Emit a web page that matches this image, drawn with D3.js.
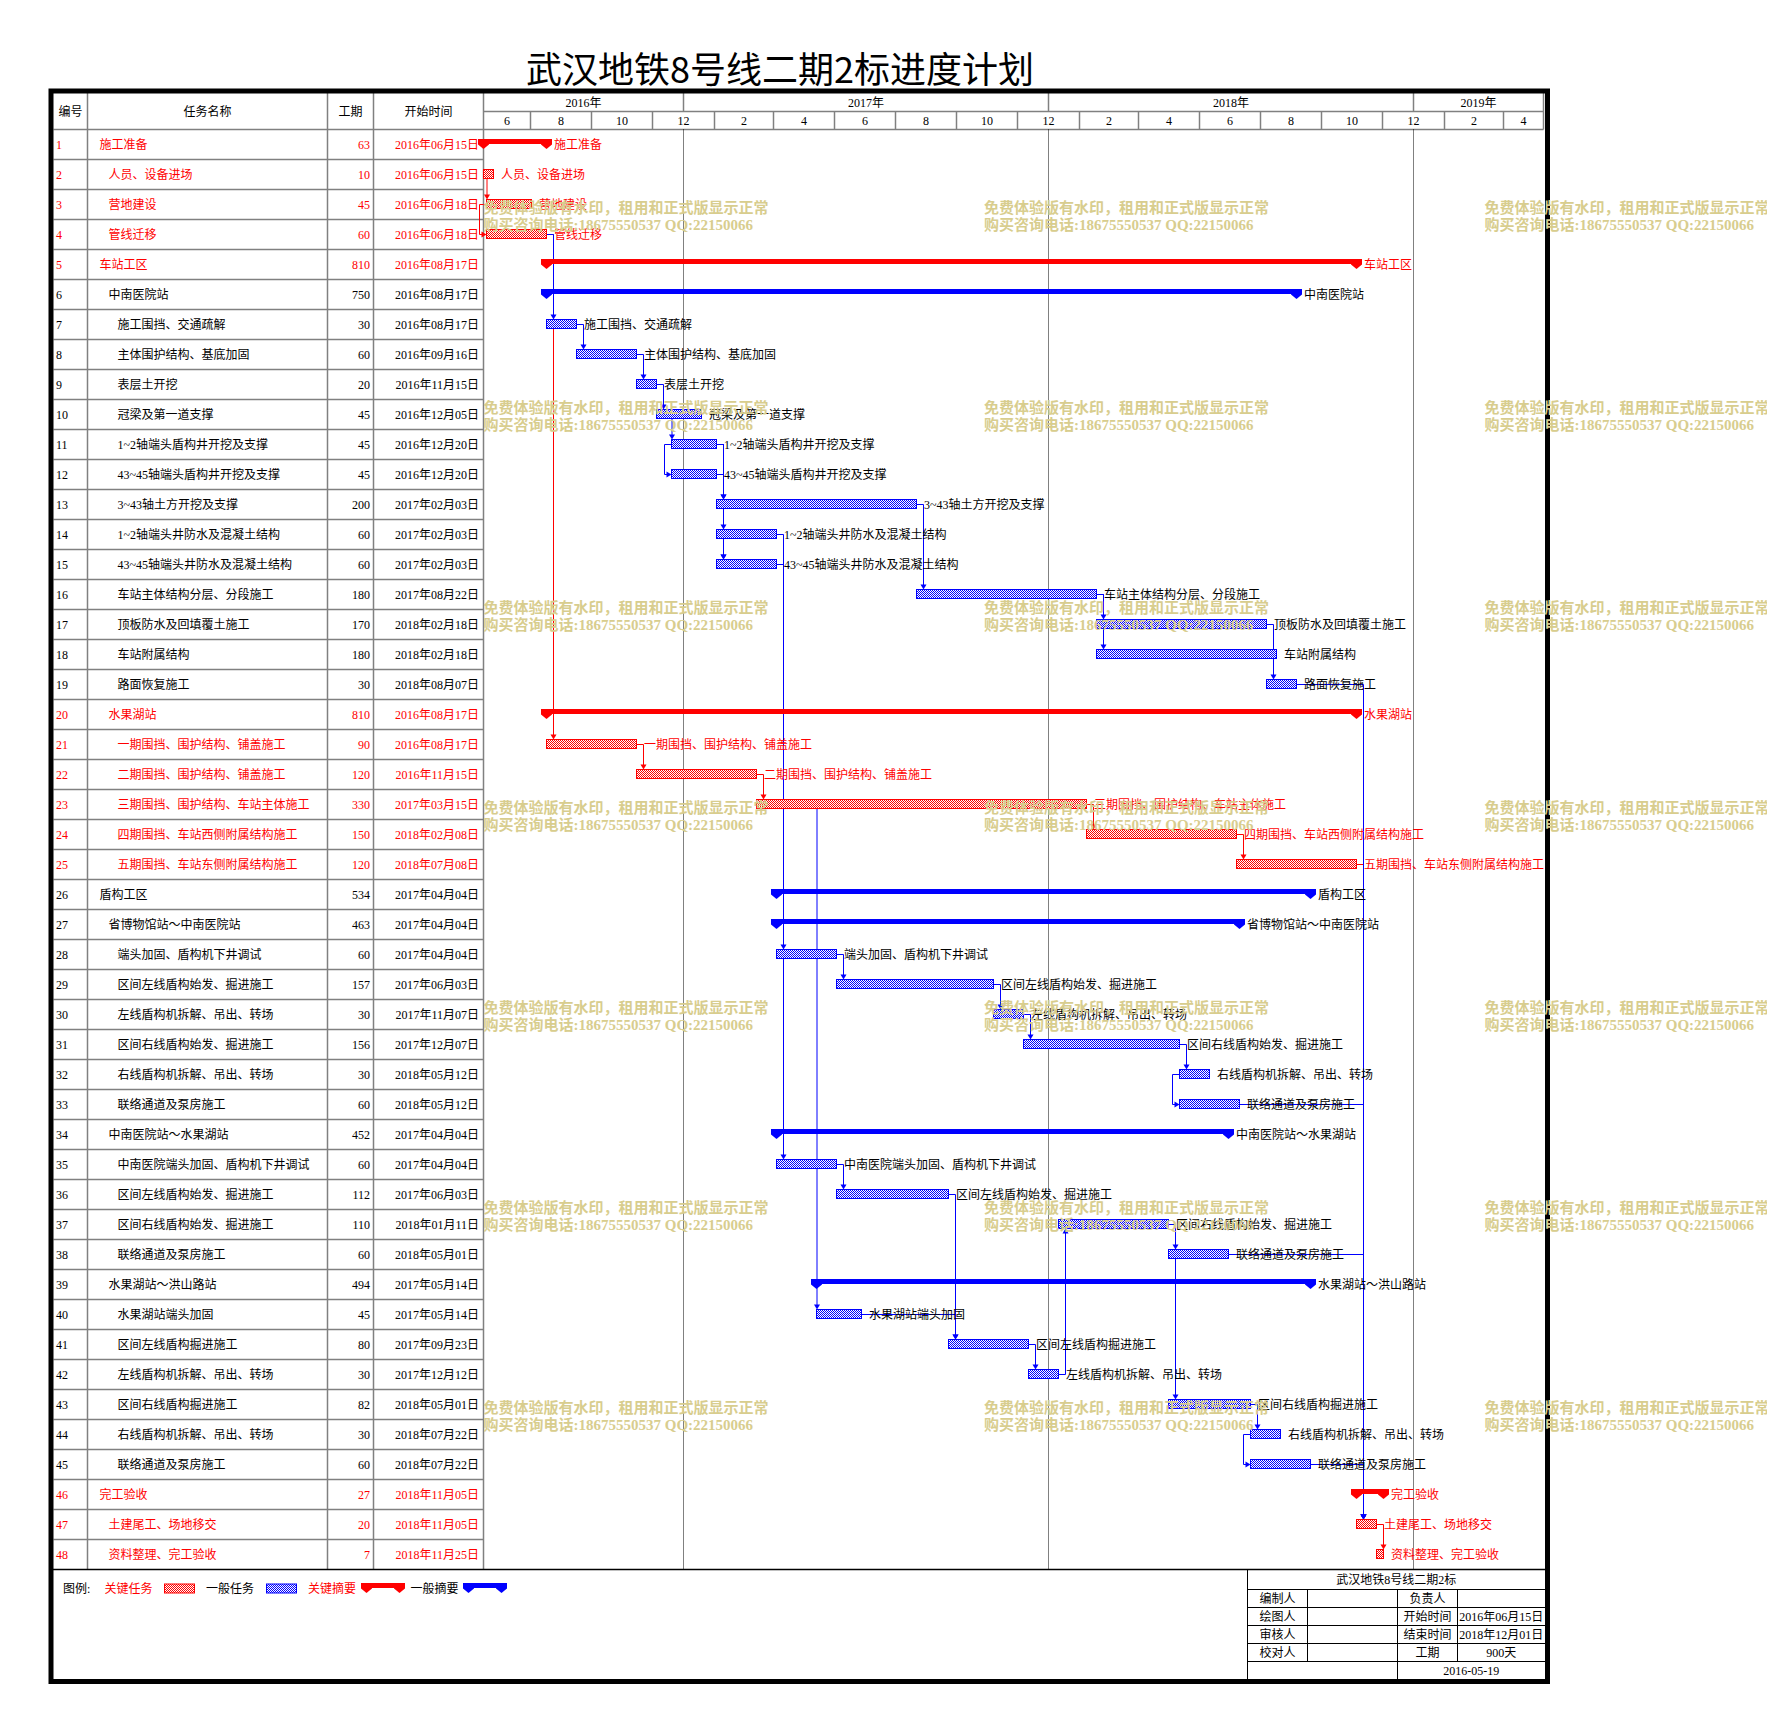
<!DOCTYPE html>
<html>
<head>
<meta charset="utf-8">
<script src="https://cdnjs.cloudflare.com/ajax/libs/d3/7.8.5/d3.min.js"></script>
<style>
  body { margin: 0; background: #fff; }
  svg { display: block; }
  text { font-family: "Liberation Serif", "Noto Sans CJK SC", serif; font-size: 12px; }
  text.wm { font-size: 15px; font-weight: bold; }
</style>
</head>
<body>
<svg id="chart" width="1767" height="1731"></svg>
<script>
// 任务表
const taskNames = [
    '施工准备', '人员、设备进场', '营地建设', '管线迁移', '车站工区', '中南医院站',
    '施工围挡、交通疏解', '主体围护结构、基底加固', '表层土开挖', '冠梁及第一道支撑',
    '1~2轴端头盾构井开挖及支撑', '43~45轴端头盾构井开挖及支撑', '3~43轴土方开挖及支撑',
    '1~2轴端头井防水及混凝土结构', '43~45轴端头井防水及混凝土结构', '车站主体结构分层、分段施工',
    '顶板防水及回填覆土施工', '车站附属结构', '路面恢复施工', '水果湖站',
    '一期围挡、围护结构、铺盖施工', '二期围挡、围护结构、铺盖施工', '三期围挡、围护结构、车站主体施工',
    '四期围挡、车站西侧附属结构施工', '五期围挡、车站东侧附属结构施工', '盾构工区',
    '省博物馆站～中南医院站', '端头加固、盾构机下井调试', '区间左线盾构始发、掘进施工',
    '左线盾构机拆解、吊出、转场', '区间右线盾构始发、掘进施工', '右线盾构机拆解、吊出、转场',
    '联络通道及泵房施工', '中南医院站～水果湖站', '中南医院端头加固、盾构机下井调试',
    '区间左线盾构始发、掘进施工', '区间右线盾构始发、掘进施工', '联络通道及泵房施工',
    '水果湖站～洪山路站', '水果湖站端头加固', '区间左线盾构掘进施工', '左线盾构机拆解、吊出、转场',
    '区间右线盾构掘进施工', '右线盾构机拆解、吊出、转场', '联络通道及泵房施工',
    '完工验收', '土建尾工、场地移交', '资料整理、完工验收'
];
const taskLevels = [1, 2, 2, 2, 1, 2, 3, 3, 3, 3, 3, 3, 3, 3, 3, 3, 3, 3, 3, 2, 3, 3, 3, 3, 3,
    1, 2, 3, 3, 3, 3, 3, 3, 2, 3, 3, 3, 3, 2, 3, 3, 3, 3, 3, 3, 1, 2, 2];
const durations = [63, 10, 45, 60, 810, 750, 30, 60, 20, 45, 45, 45, 200, 60, 60, 180, 170, 180, 30,
    810, 90, 120, 330, 150, 120, 534, 463, 60, 157, 30, 156, 30, 60, 452, 60, 112, 110, 60,
    494, 45, 80, 30, 82, 30, 60, 27, 20, 7];
const startDates = [
    '2016-06-15', '2016-06-15', '2016-06-18', '2016-06-18', '2016-08-17', '2016-08-17',
    '2016-08-17', '2016-09-16', '2016-11-15', '2016-12-05', '2016-12-20', '2016-12-20',
    '2017-02-03', '2017-02-03', '2017-02-03', '2017-08-22', '2018-02-18', '2018-02-18',
    '2018-08-07', '2016-08-17', '2016-08-17', '2016-11-15', '2017-03-15', '2018-02-08',
    '2018-07-08', '2017-04-04', '2017-04-04', '2017-04-04', '2017-06-03', '2017-11-07',
    '2017-12-07', '2018-05-12', '2018-05-12', '2017-04-04', '2017-04-04', '2017-06-03',
    '2018-01-11', '2018-05-01', '2017-05-14', '2017-05-14', '2017-09-23', '2017-12-12',
    '2018-05-01', '2018-07-22', '2018-07-22', '2018-11-05', '2018-11-05', '2018-11-25'
];
const summaryRows = [1, 5, 6, 20, 26, 27, 34, 39, 46];
const criticalRows = [1, 2, 3, 4, 5, 20, 21, 22, 23, 24, 25, 46, 47, 48];

// 逻辑关系 [前置, 后续, 类型]
const links = [
    [2, 3, 'FS'], [3, 4, 'SS'], [4, 7, 'FS'], [4, 21, 'FS'], [7, 8, 'FS'], [8, 9, 'FS'],
    [9, 10, 'FS'], [10, 11, 'FS'], [11, 12, 'SS'], [11, 13, 'FS'], [11, 14, 'FS'], [11, 15, 'FS'],
    [12, 13, 'FS'], [12, 15, 'FS'], [13, 16, 'FS'], [14, 28, 'FS'], [15, 35, 'FS'], [16, 17, 'FS'],
    [16, 18, 'FS'], [17, 19, 'FS'], [19, 47, 'FS'], [21, 22, 'FS'], [22, 23, 'FS'], [23, 24, 'FS'],
    [23, 40, 'FS'], [24, 25, 'FS'], [25, 47, 'FS'], [28, 29, 'FS'], [29, 30, 'FS'], [30, 31, 'FS'],
    [31, 32, 'FS'], [32, 33, 'SS'], [33, 47, 'FS'], [35, 36, 'FS'], [36, 41, 'FS'], [40, 41, 'FS'],
    [41, 42, 'FS'], [42, 37, 'FS'], [37, 38, 'FS'], [37, 43, 'FS'], [38, 47, 'FS'], [43, 44, 'FS'],
    [44, 45, 'SS'], [45, 47, 'FS'], [47, 48, 'FS']
];

const headerLabels = ['编号', '任务名称', '工期', '开始时间'];
const yearLabels = ['2016年', '2017年', '2018年', '2019年'];
const monthLabels = ['6', '8', '10', '12', '2', '4', '6', '8', '10', '12', '2', '4', '6', '8', '10', '12', '2', '4'];
const legendLabels = ['关键任务', '一般任务', '关键摘要', '一般摘要'];
const titleBlockRows = [
    ['编制人', '', '负责人', ''],
    ['绘图人', '', '开始时间', '2016年06月15日'],
    ['审核人', '', '结束时间', '2018年12月01日'],
    ['校对人', '', '工期', '900天']
];
const watermarkLines = ['免费体验版有水印，租用和正式版显示正常', '购买咨询电话:18675550537 QQ:22150066'];

const RED = '#ff0000', BLUE = '#0000ff', GRID = '#808080';

const parse = d3.utcParse('%Y-%m-%d');
const fmtDate = d3.utcFormat('%Y年%m月%d日');

const tasks = taskNames.map((name, i) => {
    const start = parse(startDates[i]);
    return {
        id: i + 1, name, level: taskLevels[i], dur: durations[i],
        start, end: d3.utcDay.offset(start, durations[i]),
        summary: summaryRows.includes(i + 1),
        critical: criticalRows.includes(i + 1)
    };
});

const svg = d3.select('#chart');

// scales
const x = d3.scaleUtc()
    .domain([parse('2016-06-15'), parse('2019-05-11')])
    .range([483.5, 1543.5]);
const y = d3.scaleBand()
    .domain(tasks.map(d => d.id))
    .range([129.5, 1569.5]);
const cy = id => y(id) + y.bandwidth() / 2;

// hatch patterns (checker mesh)
const defs = svg.append('defs');
function addHatch(id, color) {
    const p = defs.append('pattern').attr('id', id)
        .attr('patternUnits', 'userSpaceOnUse').attr('width', 2).attr('height', 2);
    p.append('rect').attr('width', 2).attr('height', 2).attr('fill', '#fff');
    p.append('rect').attr('width', 1).attr('height', 1).attr('fill', color);
    p.append('rect').attr('x', 1).attr('y', 1).attr('width', 1).attr('height', 1).attr('fill', color);
}
addHatch('hatch-red', RED);
addHatch('hatch-blue', BLUE);

// title
svg.append('text')
    .attr('x', 780).attr('y', 67)
    .attr('text-anchor', 'middle').attr('dominant-baseline', 'central')
    .style('font-family', '"Noto Sans CJK SC", sans-serif')
    .style('font-size', '36px')
    .text('武汉地铁8号线二期2标进度计划');

// table grid
const colX = [53.5, 87.5, 327.5, 373.5, 483.5];
const grid = svg.append('g').attr('stroke', GRID).attr('stroke-width', 1.5);
tasks.slice(1).forEach(d => {
    grid.append('line').attr('x1', colX[0]).attr('x2', colX[4]).attr('y1', y(d.id)).attr('y2', y(d.id));
});
colX.slice(1).forEach(cx => {
    grid.append('line').attr('x1', cx).attr('x2', cx).attr('y1', 93).attr('y2', 1569.5);
});
grid.append('line').attr('x1', colX[0]).attr('x2', 1543.5).attr('y1', 129.5).attr('y2', 129.5);
grid.append('line').attr('x1', colX[4]).attr('x2', 1543.5).attr('y1', 111.5).attr('y2', 111.5);
grid.append('line').attr('x1', 1543.5).attr('x2', 1543.5).attr('y1', 93).attr('y2', 129.5);

// header texts
headerLabels.forEach((t, i) => {
    svg.append('text')
        .attr('x', (colX[i] + colX[i + 1]) / 2).attr('y', 111.5)
        .attr('text-anchor', 'middle').attr('dominant-baseline', 'central')
        .text(t);
});

// time header: years
const [d0, d1] = x.domain();
const years = d3.utcYear.range(d3.utcYear.floor(d0), d1);
years.forEach((yr, i) => {
    const a = x(d3.max([yr, d0])), b = x(d3.min([d3.utcYear.offset(yr, 1), d1]));
    if (i > 0) grid.append('line').attr('x1', a).attr('x2', a).attr('y1', 93).attr('y2', 111.5);
    svg.append('text')
        .attr('x', (a + b) / 2).attr('y', 102.5)
        .attr('text-anchor', 'middle').attr('dominant-baseline', 'central')
        .text(yearLabels[i]);
});

// time header: months, 2 per cell
const months = d3.utcMonth.range(d3.utcMonth.floor(d0), d1, 2);
months.forEach((m, i) => {
    const a = x(d3.max([m, d0])), b = x(d3.min([d3.utcMonth.offset(m, 2), d1]));
    if (i > 0) grid.append('line').attr('x1', a).attr('x2', a).attr('y1', 111.5).attr('y2', 129.5);
    svg.append('text')
        .attr('x', (a + b) / 2).attr('y', 120.5)
        .attr('text-anchor', 'middle').attr('dominant-baseline', 'central')
        .text(monthLabels[i]);
});

// year boundaries, dotted
years.slice(1).forEach(yr => {
    svg.append('line')
        .attr('x1', x(yr)).attr('x2', x(yr)).attr('y1', 129.5).attr('y2', 1569.5)
        .attr('stroke', '#000').attr('stroke-width', 1).attr('stroke-dasharray', '1,1');
});

// table rows
const rows = svg.append('g').selectAll('g')
    .data(tasks).join('g')
    .attr('fill', d => d.critical ? RED : '#000');
rows.append('text').attr('x', 56).attr('y', d => cy(d.id))
    .attr('dominant-baseline', 'central').text(d => d.id);
rows.append('text').attr('x', d => 99.5 + (d.level - 1) * 9).attr('y', d => cy(d.id))
    .attr('dominant-baseline', 'central').text(d => d.name);
rows.append('text').attr('x', 370).attr('y', d => cy(d.id))
    .attr('text-anchor', 'end').attr('dominant-baseline', 'central').text(d => d.dur);
rows.append('text').attr('x', 479).attr('y', d => cy(d.id))
    .attr('text-anchor', 'end').attr('dominant-baseline', 'central').text(d => fmtDate(d.start));

// link lines
const byId = id => tasks[id - 1];
function route(l) {
    const p = byId(l[0]), s = byId(l[1]);
    const px0 = x(p.start), px1 = x(p.end), sx0 = x(s.start);
    const cp = cy(p.id), cs = cy(s.id);
    if (l[2] === 'SS') {
        const xl = px0 - 7;
        return { d: `M${px0},${cp}H${xl}V${cs}H${sx0 - 4}`,
            arrow: [[sx0 - 5, cs - 3], [sx0 - 5, cs + 3], [sx0, cs]] };
    }
    if (s.id < p.id) {
        const X = Math.max(px1, sx0) + 7, bot = cs + 4;
        return { d: `M${px1},${cp}H${X}V${bot + 4}`,
            arrow: [[X - 3, bot + 5], [X + 3, bot + 5], [X, bot]] };
    }
    const top = cs - 5;
    const arrow = X => [[X - 3, top - 5], [X + 3, top - 5], [X, top]];
    if (sx0 < px1) {
        const X = sx0 + 0.5;
        return { d: `M${X},${cp + 4}V${top - 4}`, arrow: arrow(X) };
    }
    const X = Math.max(px1, sx0) + 7;
    return { d: `M${px1},${cp}H${X}V${top - 4}`, arrow: arrow(X) };
}
const linkData = links.map(l => ({
    l, red: byId(l[0]).critical && byId(l[1]).critical, r: route(l)
})).sort((a, b) => b.red - a.red);

const linkG = svg.append('g');
linkData.forEach(k => {
    const c = k.red ? RED : BLUE;
    linkG.append('path').attr('d', k.r.d).attr('fill', 'none')
        .attr('stroke', c).attr('stroke-width', 1);
    linkG.append('polygon').attr('points', k.r.arrow.join(' ')).attr('fill', c);
});

// bars
function summaryShape(g, x0, x1, c, color) {
    const top = c - 5.5;
    g.append('rect').attr('x', x0 - 5.5).attr('y', top)
        .attr('width', x1 - x0 + 11).attr('height', 5).attr('fill', color);
    [x0, x1].forEach(px => {
        g.append('polygon')
            .attr('points', [[px - 5.5, top], [px + 5.5, top], [px + 5.5, top + 5.5],
                [px, top + 10], [px - 5.5, top + 5.5]].join(' '))
            .attr('fill', color);
    });
}
function taskBar(g, x0, x1, c, color, hatch) {
    g.append('rect').attr('x', x0).attr('y', c - 5)
        .attr('width', x1 - x0).attr('height', 9)
        .attr('fill', `url(#${hatch})`).attr('stroke', color).attr('stroke-width', 1);
}

const barG = svg.append('g');
tasks.forEach(d => {
    const x0 = x(d.start), x1 = x(d.end), c = cy(d.id);
    const color = d.critical ? RED : BLUE;
    if (d.summary) summaryShape(barG, x0, x1, c, color);
    else taskBar(barG, x0, x1, c, color, d.critical ? 'hatch-red' : 'hatch-blue');
    barG.append('text')
        .attr('x', x1 + 7.5).attr('y', c)
        .attr('dominant-baseline', 'central')
        .attr('fill', d.critical ? RED : '#000')
        .text(d.name);
});

// bottom of table
svg.append('line').attr('x1', 53).attr('x2', 1545).attr('y1', 1569.5).attr('y2', 1569.5)
    .attr('stroke', '#000').attr('stroke-width', 1.5);

// legend
const lg = svg.append('g');
const legendText = (tx, t, color) => lg.append('text').attr('x', tx).attr('y', 1589)
    .attr('dominant-baseline', 'central').attr('fill', color).text(t);
legendText(63, '图例:', '#000');
legendText(104.5, legendLabels[0], RED);
taskBar(lg, 164.5, 194.5, 1589, RED, 'hatch-red');
legendText(206, legendLabels[1], '#000');
taskBar(lg, 266.5, 296.5, 1589, BLUE, 'hatch-blue');
legendText(308, legendLabels[2], RED);
summaryShape(lg, 366.5, 399.5, 1588.5, RED);
legendText(410.5, legendLabels[3], '#000');
summaryShape(lg, 468.5, 501.5, 1588.5, BLUE);

// title block
const tbX = [1247.5, 1307.5, 1397.5, 1457.5, 1545];
const tbY = [1569.5, 1589.5, 1607.5, 1625.5, 1643.5, 1661.5, 1680];
const tb = svg.append('g').attr('stroke', '#000').attr('stroke-width', 1);
tb.append('line').attr('x1', tbX[0]).attr('x2', tbX[0]).attr('y1', tbY[0]).attr('y2', tbY[6]);
tbY.slice(1, 6).forEach(v => tb.append('line').attr('x1', tbX[0]).attr('x2', tbX[4]).attr('y1', v).attr('y2', v));
[1, 3].forEach(i => tb.append('line').attr('x1', tbX[i]).attr('x2', tbX[i]).attr('y1', tbY[1]).attr('y2', tbY[5]));
tb.append('line').attr('x1', tbX[2]).attr('x2', tbX[2]).attr('y1', tbY[1]).attr('y2', tbY[6]);

const tbText = (cx, cyy, t) => svg.append('text').attr('x', cx).attr('y', cyy)
    .attr('text-anchor', 'middle').attr('dominant-baseline', 'central').text(t);
tbText((tbX[0] + tbX[4]) / 2, (tbY[0] + tbY[1]) / 2, '武汉地铁8号线二期2标');
titleBlockRows.forEach((r, ri) => {
    r.forEach((t, ci) => {
        if (t) tbText((tbX[ci] + tbX[ci + 1]) / 2, (tbY[ri + 1] + tbY[ri + 2]) / 2, t);
    });
});
tbText((tbX[2] + tbX[4]) / 2, (tbY[5] + tbY[6]) / 2, '2016-05-19');

// outer frame
svg.append('rect').attr('x', 51).attr('y', 91).attr('width', 1496.5).attr('height', 1590.5)
    .attr('fill', 'none').attr('stroke', '#000').attr('stroke-width', 5);

// watermark
const wm = svg.append('g').attr('fill', '#d8cd8e');
[483.5, 984, 1484.5].forEach(wx => {
    d3.range(7).forEach(k => {
        watermarkLines.forEach((t, j) => {
            wm.append('text').attr('class', 'wm')
                .attr('x', wx).attr('y', 207.5 + k * 200 + j * 17.5)
                .attr('dominant-baseline', 'central').text(t);
        });
    });
});
</script>
</body>
</html>
